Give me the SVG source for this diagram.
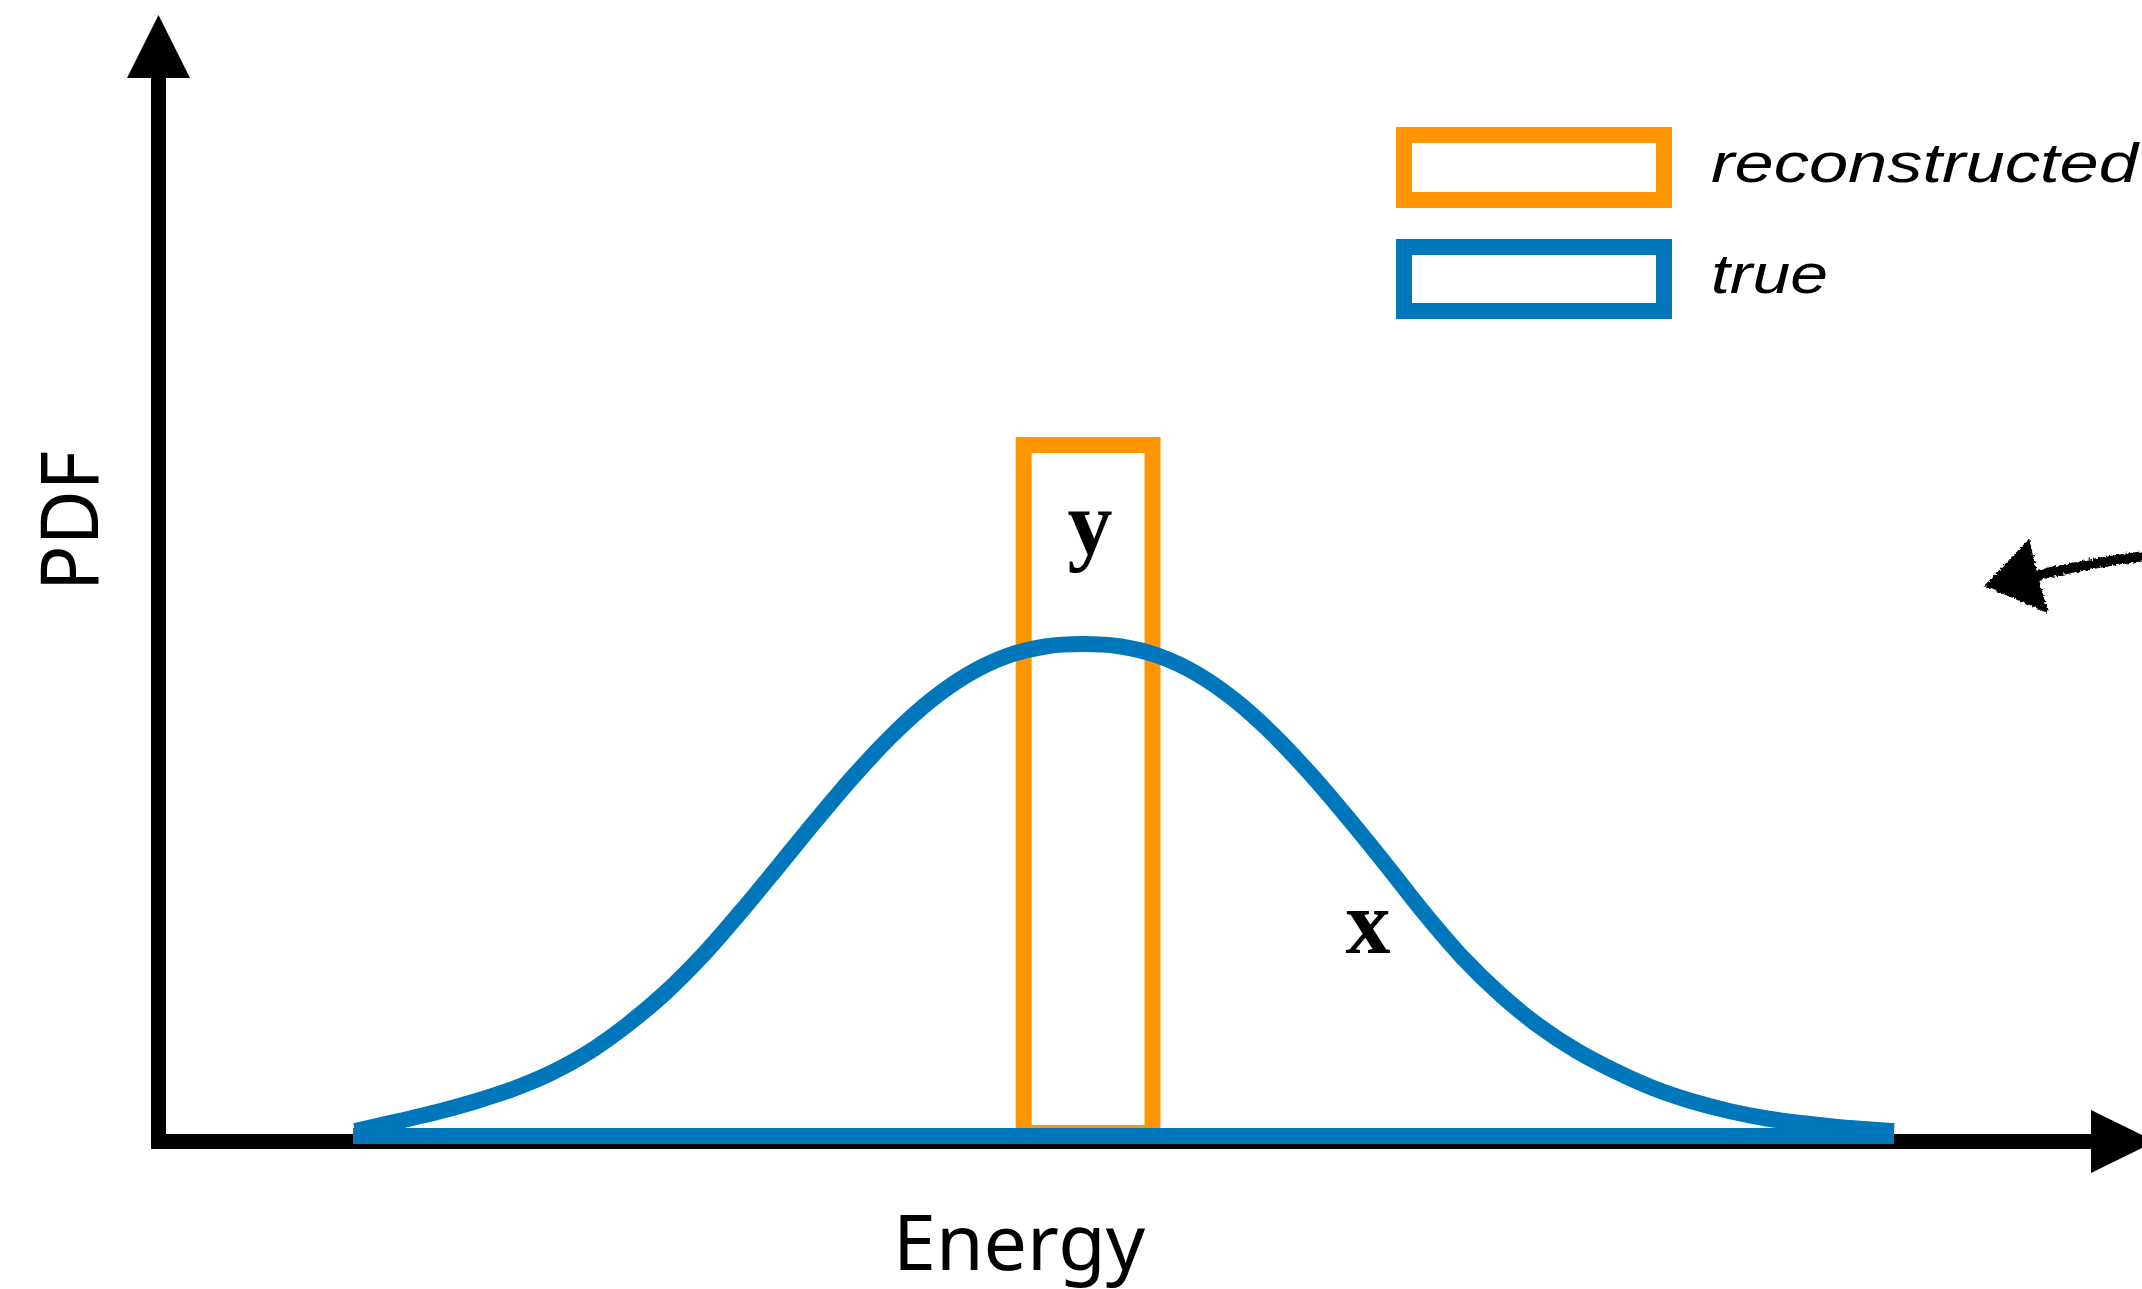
<svg xmlns="http://www.w3.org/2000/svg" width="2142" height="1289" viewBox="0 0 2142 1289">
<defs>
<style>
.ax{stroke:#000;stroke-width:15;fill:none}
.blue{stroke:#0077BB;stroke-width:16;fill:none}
.orange{stroke:#FF9500;stroke-width:16;fill:none}
.lbl{font-family:"Noto Sans","Liberation Sans",sans-serif;fill:#000}
.leg{font-family:"Liberation Sans",Arial,sans-serif;font-style:italic;font-size:56px;fill:#000}
.var{font-family:"Liberation Serif","Times New Roman",serif;font-weight:bold;font-size:90px;fill:#000;text-anchor:middle}
</style>
<filter id="rough" x="-20%" y="-20%" width="140%" height="140%">
<feTurbulence type="fractalNoise" baseFrequency="0.35" numOctaves="2" seed="3" result="n"/>
<feDisplacementMap in="SourceGraphic" in2="n" scale="5" xChannelSelector="R" yChannelSelector="G"/>
</filter>
</defs>
<rect width="2142" height="1289" fill="#fff"/>

<g id="axes">
<line class="ax" x1="158.5" y1="70" x2="158.5" y2="1149"/>
<polygon points="158.5,15 190,78 127,78" fill="#000"/>
<line class="ax" x1="151" y1="1141.5" x2="2095" y2="1141.5"/>
<polygon points="2091,1110 2091,1173 2155,1141.5" fill="#000"/>
</g>

<g id="bar-y">
<rect class="orange" x="1023.7" y="445" width="128.8" height="688"/>
</g>

<g id="curve-x">
<line class="blue" x1="353" y1="1136" x2="1894" y2="1136"/>
<path class="blue" d="M355,1131 C362.33,1129.33 385.33,1124.17 399,1121 C412.67,1117.83 424.33,1115.25 437,1112 C449.67,1108.75 462.33,1105.33 475,1101.5 C487.67,1097.67 500.33,1093.75 513,1089 C525.67,1084.25 538.33,1079.17 551,1073 C563.67,1066.83 576.33,1060 589,1052 C601.67,1044 614.33,1034.83 627,1025 C639.67,1015.17 652.33,1004.67 665,993 C677.67,981.33 690.33,968.58 703,955 C715.67,941.42 728.33,926.4 741,911.5 C753.67,896.6 766.33,880.98 779,865.6 C791.67,850.22 804.33,834.35 817,819.2 C829.67,804.05 842.33,788.83 855,774.7 C867.67,760.57 880.33,746.8 893,734.4 C905.67,722 918.33,710.38 931,700.3 C943.67,690.22 956.33,681.28 969,673.9 C981.67,666.52 994.33,660.57 1007,656 C1019.67,651.43 1032.33,648.5 1045,646.5 C1057.67,644.5 1070.33,644 1083,644 C1095.67,644 1108.33,644.5 1121,646.5 C1133.67,648.5 1146.33,651.43 1159,656 C1171.67,660.57 1184.33,666.52 1197,673.9 C1209.67,681.28 1222.33,690.22 1235,700.3 C1247.67,710.38 1260.33,722 1273,734.4 C1285.67,746.8 1298.33,760.57 1311,774.7 C1323.67,788.83 1336.33,803.98 1349,819.2 C1361.67,834.42 1374.33,850.2 1387,866 C1399.67,881.8 1412.33,898.67 1425,914 C1437.67,929.33 1450.33,944.5 1463,958 C1475.67,971.5 1488.33,983.67 1501,995 C1513.67,1006.33 1526.33,1016.67 1539,1026 C1551.67,1035.33 1564.33,1043.5 1577,1051 C1589.67,1058.5 1602.33,1064.83 1615,1071 C1627.67,1077.17 1640.33,1083 1653,1088 C1665.67,1093 1678.33,1097.17 1691,1101 C1703.67,1104.83 1716.33,1108.08 1729,1111 C1741.67,1113.92 1754.33,1116.42 1767,1118.5 C1779.67,1120.58 1792.33,1122 1805,1123.5 C1817.67,1125 1828.17,1126.25 1843,1127.5 C1857.83,1128.75 1885.5,1130.42 1894,1131"/>
</g>

<g id="legend">
<rect class="orange" x="1404" y="135" width="260" height="65"/>
<text class="leg" x="1711" y="182" textLength="427" lengthAdjust="spacingAndGlyphs">reconstructed</text>
<rect class="blue" x="1404" y="247" width="260" height="64"/>
<text class="leg" x="1711" y="293" textLength="117" lengthAdjust="spacingAndGlyphs">true</text>
</g>

<g id="labels">
<text class="var" x="1090" y="554">y</text>
<text class="var" x="1368" y="953">x</text>
<text class="lbl" x="893" y="1270" font-size="76" textLength="252" lengthAdjust="spacingAndGlyphs">Energy</text>
<text class="lbl" transform="translate(98,591) rotate(-90)" x="0" y="0" font-size="80" textLength="140" lengthAdjust="spacingAndGlyphs">PDF</text>
</g>

<g id="sketch-arrow" filter="url(#rough)">
<path d="M2038,575 C2070,568 2105,561 2145,556" stroke="#000" stroke-width="10" fill="none" stroke-linecap="round"/>
<polygon points="1984,586 2029,539 2037,571 2048,613" fill="#000"/>
</g>
</svg>
